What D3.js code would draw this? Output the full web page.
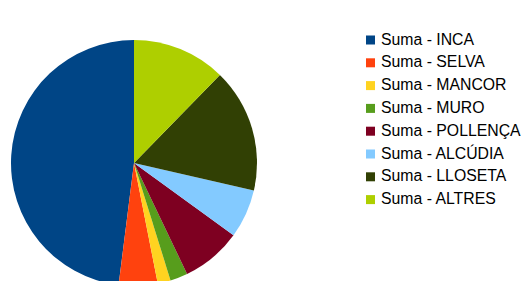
<!DOCTYPE html>
<html>
<head>
<meta charset="utf-8">
<script src="https://cdn.jsdelivr.net/npm/d3@7"></script>
<style>
  body { margin: 0; background: #fff; }
  svg { display: block; }
</style>
</head>
<body>
<div id="vis"></div>
<script>
const FRAME_WIDTH = 522;
const FRAME_HEIGHT = 281;

// data (share of the total, %)
const categories = ['Suma - INCA', 'Suma - SELVA', 'Suma - MANCOR', 'Suma - MURO',
                    'Suma - POLLENÇA', 'Suma - ALCÚDIA', 'Suma - LLOSETA', 'Suma - ALTRES'];
const values = [48.0, 5.1, 1.7, 2.3, 7.9, 6.4, 16.3, 12.3];
const colors = ['#004586', '#ff420e', '#ffd320', '#579d1c',
                '#7e0021', '#83caff', '#314004', '#aecf00'];

const CX = 134, CY = 163, R = 123;

const FRAME = d3.select('#vis')
  .append('svg')
    .attr('width', FRAME_WIDTH)
    .attr('height', FRAME_HEIGHT);

const COLOR = d3.scaleOrdinal().domain(categories).range(colors);

// slices run counter-clockwise from 12 o'clock
const pie = d3.pie()
  .sort(null)
  .value(d => d.v)
  .startAngle(0)
  .endAngle(-2 * Math.PI);

const arc = d3.arc().innerRadius(0).outerRadius(R);

const rows = categories.map((c, i) => ({c: c, v: values[i]}));

FRAME.append('g')
    .attr('transform', 'translate(' + CX + ',' + CY + ')')
  .selectAll('path')
  .data(pie(rows))
  .enter()
  .append('path')
    .attr('d', arc)
    .attr('fill', d => COLOR(d.data.c));

// legend
const LEG_Y = d3.scalePoint().domain(categories).range([44.5, 204.1]);

const legend = FRAME.append('g')
  .selectAll('g')
  .data(categories)
  .enter()
  .append('g')
    .attr('transform', d => 'translate(0,' + LEG_Y(d) + ')');

legend.append('rect')
    .attr('x', 366)
    .attr('y', -9)
    .attr('width', 9)
    .attr('height', 9)
    .attr('fill', d => COLOR(d));

legend.append('text')
    .attr('x', 381)
    .attr('y', 0)
    .attr('font-family', '"Liberation Sans", Arial, sans-serif')
    .attr('font-size', '15.8px')
    .attr('fill', '#000')
    .text(d => d);
</script>
</body>
</html>
